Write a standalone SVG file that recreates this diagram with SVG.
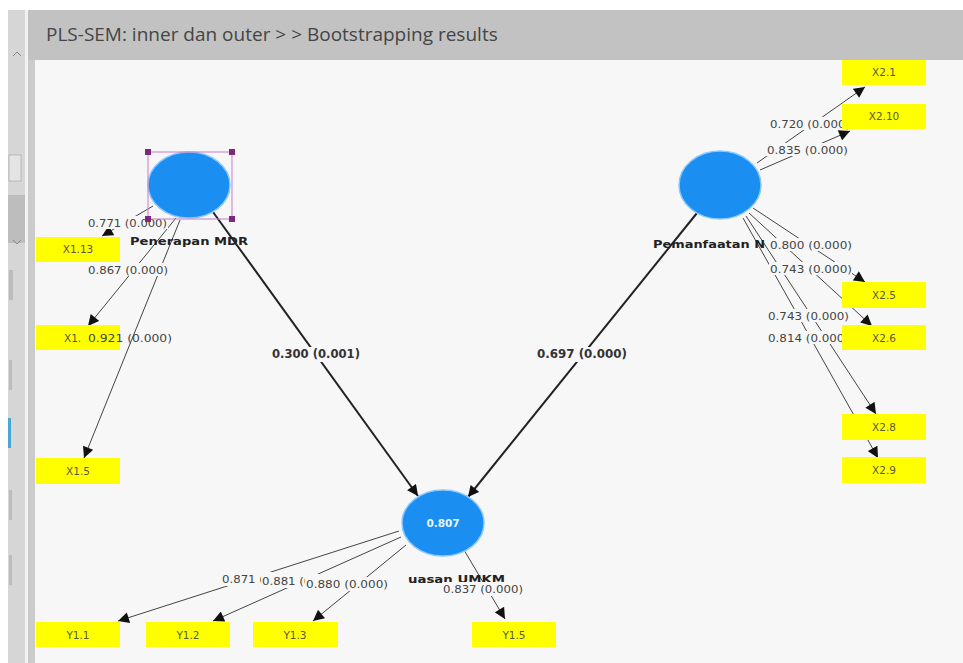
<svg xmlns="http://www.w3.org/2000/svg" width="963" height="663" viewBox="0 0 963 663">
<style>
.lv{fill:#1b8ef2;stroke:#8cc8ff;stroke-width:1.5}
.box{fill:#ffff00}
.bt{font-family:"DejaVu Sans","Liberation Sans",sans-serif;font-size:10.5px;fill:#5a5a3a;text-anchor:middle}
.lab{font-family:"DejaVu Sans","Liberation Sans",sans-serif;font-size:11px;fill:#444}
.bg{fill:#f7f7f7}
.nm{font-family:"DejaVu Sans","Liberation Sans",sans-serif;font-size:11px;font-weight:bold;fill:#222}
.in{stroke:#222;stroke-width:2;fill:none;marker-end:url(#ah)}
.out{stroke:#444;stroke-width:1;fill:none;marker-end:url(#ah)}
.ilab{font-family:"DejaVu Sans","Liberation Sans",sans-serif;font-size:11.5px;font-weight:bold;fill:#333;text-anchor:middle}
</style>
<defs>
<marker id="ah" viewBox="0 0 10 10" refX="10" refY="5" markerWidth="12" markerHeight="11" markerUnits="userSpaceOnUse" orient="auto">
<path d="M0,0 L10,5 L0,10 z" fill="#111"/>
</marker>
</defs>
<rect x="0" y="0" width="963" height="663" fill="#ffffff"/>
<rect x="8" y="10" width="17" height="653" fill="#d6d6d6"/>
<rect x="8" y="195" width="17" height="48" fill="#bdbdbd"/>
<path d="M13,56 L17,52 L21,56" stroke="#888" fill="none"/>
<rect x="9" y="155" width="12" height="26" fill="#e4e4e4" stroke="#b0b0b0" stroke-width="0.8"/>
<path d="M13,240 L17,244 L21,240" stroke="#888" fill="none"/>
<rect x="9" y="270" width="4" height="30" fill="#bcbcbc"/>
<rect x="9" y="360" width="3" height="30" fill="#bcbcbc"/>
<rect x="8" y="418" width="3" height="30" fill="#4aa6d6"/>
<rect x="9" y="490" width="3" height="30" fill="#bcbcbc"/>
<rect x="9" y="555" width="3" height="30" fill="#bcbcbc"/>
<rect x="25" y="10" width="3" height="653" fill="#f2f2f2"/>
<rect x="28" y="10" width="7" height="653" fill="#cbcbcb"/>
<rect x="28" y="10" width="935" height="50" fill="#c2c2c2"/>
<rect x="35" y="60" width="928" height="603" fill="#f7f7f7"/>
<text x="46" y="41" font-family="'Open Sans','Liberation Sans',sans-serif" font-size="19" fill="#454545">PLS-SEM: inner dan outer &gt; &gt; Bootstrapping results</text>

<g id="connectors">
<line class="in" x1="213" y1="212" x2="418" y2="496"/>
<line class="in" x1="697" y1="213" x2="468" y2="497"/>
<line class="out" x1="153" y1="206" x2="102" y2="236"/>
<line class="out" x1="176" y1="218" x2="88" y2="326"/>
<line class="out" x1="180" y1="220" x2="84" y2="458"/>
<line class="out" x1="757" y1="163" x2="865" y2="87"/>
<line class="out" x1="760" y1="170" x2="850" y2="131"/>
<line class="out" x1="753" y1="208" x2="865" y2="282"/>
<line class="out" x1="749" y1="213" x2="872" y2="326"/>
<line class="out" x1="746" y1="216" x2="876" y2="414"/>
<line class="out" x1="743" y1="218" x2="878" y2="458"/>
<line class="out" x1="399" y1="531" x2="118" y2="621"/>
<line class="out" x1="401" y1="537" x2="213" y2="621"/>
<line class="out" x1="406" y1="545" x2="313" y2="621"/>
<line class="out" x1="464" y1="550" x2="505" y2="619"/>
</g>

<g id="labels">
<rect class="bg" x="271" y="347" width="91" height="15"/>
<text class="ilab" x="316" y="358" textLength="88" lengthAdjust="spacingAndGlyphs">0.300 (0.001)</text>
<rect class="bg" x="536" y="347" width="93" height="15"/>
<text class="ilab" x="582" y="358" textLength="90" lengthAdjust="spacingAndGlyphs">0.697 (0.000)</text>
<rect class="bg" x="87" y="216" width="81" height="13"/>
<text class="lab" x="88" y="227" textLength="79" lengthAdjust="spacingAndGlyphs">0.771 (0.000)</text>
<rect class="bg" x="87" y="263" width="81" height="13"/>
<text class="lab" x="88" y="274" textLength="80" lengthAdjust="spacingAndGlyphs">0.867 (0.000)</text>
<rect class="bg" x="768" y="117" width="81" height="13"/>
<text class="lab" x="770" y="128" textLength="80" lengthAdjust="spacingAndGlyphs">0.720 (0.000)</text>
<rect class="bg" x="766" y="143" width="82" height="13"/>
<text class="lab" x="767" y="154" textLength="81" lengthAdjust="spacingAndGlyphs">0.835 (0.000)</text>
<rect class="bg" x="769" y="238" width="83" height="13"/>
<text class="lab" x="770" y="249" textLength="82" lengthAdjust="spacingAndGlyphs">0.800 (0.000)</text>
<rect class="bg" x="769" y="262" width="83" height="13"/>
<text class="lab" x="770" y="273" textLength="82" lengthAdjust="spacingAndGlyphs">0.743 (0.000)</text>
<rect class="bg" x="767" y="309" width="82" height="13"/>
<text class="lab" x="768" y="320" textLength="81" lengthAdjust="spacingAndGlyphs">0.743 (0.000)</text>
<rect class="bg" x="767" y="331" width="82" height="13"/>
<text class="lab" x="768" y="342" textLength="81" lengthAdjust="spacingAndGlyphs">0.814 (0.000)</text>
<text class="nm" x="408" y="583" textLength="97" lengthAdjust="spacingAndGlyphs">uasan UMKM</text>
<rect class="bg" x="221" y="572" width="82" height="14"/>
<text class="lab" x="222" y="583" textLength="80" lengthAdjust="spacingAndGlyphs">0.871 (0.000)</text>
<rect class="bg" x="261" y="574" width="82" height="14"/>
<text class="lab" x="262" y="585" textLength="80" lengthAdjust="spacingAndGlyphs">0.881 (0.000)</text>
<rect class="bg" x="305" y="577" width="84" height="14"/>
<text class="lab" x="306" y="588" textLength="82" lengthAdjust="spacingAndGlyphs">0.880 (0.000)</text>
<rect class="bg" x="442" y="582" width="83" height="14"/>
<text class="lab" x="443" y="593" textLength="80" lengthAdjust="spacingAndGlyphs">0.837 (0.000)</text>
</g>

<g id="penerapan-mdr">
<ellipse class="lv" cx="189" cy="185" rx="41" ry="33"/>
<rect x="148" y="152" width="84" height="67" fill="none" stroke="#c77dc7" stroke-width="1"/>
<rect x="145" y="149" width="6" height="6" fill="#7b2a7b"/>
<rect x="229" y="149" width="6" height="6" fill="#7b2a7b"/>
<rect x="145" y="216" width="6" height="6" fill="#7b2a7b"/>
<rect x="229" y="216" width="6" height="6" fill="#7b2a7b"/>
<text class="nm" x="130" y="245" textLength="118" lengthAdjust="spacingAndGlyphs">Penerapan MDR</text>
</g>
<g id="pemanfaatan">
<ellipse class="lv" cx="720" cy="185" rx="41" ry="34"/>
<text class="nm" x="653" y="248" textLength="112" lengthAdjust="spacingAndGlyphs">Pemanfaatan N</text>
</g>
<g id="umkm">
<ellipse class="lv" cx="443" cy="523" rx="41" ry="33"/>
<text x="443" y="527" font-family="'DejaVu Sans','Liberation Sans',sans-serif" font-size="10.5" font-weight="bold" fill="#e8f4ff" text-anchor="middle">0.807</text>
</g>

<g id="x1-13"><rect class="box" x="36" y="237" width="84" height="25"/><text class="bt" x="78" y="253">X1.13</text></g>
<g id="x1-8"><rect class="box" x="36" y="325" width="84" height="25"/><text class="bt" x="64" y="342" style="text-anchor:start">X1.</text><text class="lab" x="88" y="342" textLength="84" lengthAdjust="spacingAndGlyphs">0.921 (0.000)</text></g>
<g id="x1-5"><rect class="box" x="36" y="458" width="84" height="26"/><text class="bt" x="78" y="475">X1.5</text></g>
<g id="x2-1"><rect class="box" x="842" y="60" width="84" height="25"/><text class="bt" x="884" y="76">X2.1</text></g>
<g id="x2-10"><rect class="box" x="842" y="104" width="84" height="25"/><text class="bt" x="884" y="120">X2.10</text></g>
<g id="x2-5"><rect class="box" x="842" y="282" width="84" height="26"/><text class="bt" x="884" y="299">X2.5</text></g>
<g id="x2-6"><rect class="box" x="842" y="325" width="84" height="25"/><text class="bt" x="884" y="342">X2.6</text></g>
<g id="x2-8"><rect class="box" x="842" y="414" width="84" height="26"/><text class="bt" x="884" y="431">X2.8</text></g>
<g id="x2-9"><rect class="box" x="842" y="457" width="84" height="26"/><text class="bt" x="884" y="474">X2.9</text></g>
<g id="y1-1"><rect class="box" x="36" y="622" width="84" height="25"/><text class="bt" x="78" y="639">Y1.1</text></g>
<g id="y1-2"><rect class="box" x="146" y="622" width="84" height="25"/><text class="bt" x="188" y="639">Y1.2</text></g>
<g id="y1-3"><rect class="box" x="253" y="622" width="85" height="25"/><text class="bt" x="295" y="639">Y1.3</text></g>
<g id="y1-5"><rect class="box" x="472" y="622" width="84" height="25"/><text class="bt" x="514" y="639">Y1.5</text></g>
</svg>
